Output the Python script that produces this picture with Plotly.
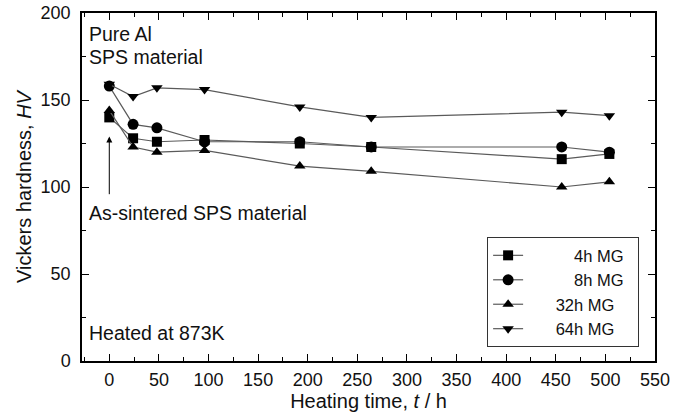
import plotly.graph_objects as go

time_h = [0, 24, 48, 96, 192, 264, 456, 504]
hv_4h = [140, 128, 126, 127, 125, 123, 116, 119]
hv_8h = [158, 136, 134, 126, 126, 123, 123, 120]
hv_32h = [144, 123, 120, 121, 112, 109, 100, 103]
hv_64h = [159, 152, 157, 156, 146, 140, 143, 141]

S = "\u2007"
series = [
    (S * 5 + "4h MG" + S, hv_4h, "square"),
    (S * 5 + "8h MG" + S, hv_8h, "circle"),
    (S * 3 + "32h MG" + S, hv_32h, "triangle-up"),
    (S * 3 + "64h MG" + S, hv_64h, "triangle-down"),
]

fig = go.Figure()
for name, vals, sym in series:
    fig.add_trace(go.Scatter(
        x=time_h, y=vals, name=name, mode="lines+markers",
        line=dict(color="#5a5a5a", width=1.2),
        marker=dict(symbol=sym, color="black", size=10 if sym != "circle" else 11),
    ))

FAM = "Liberation Sans, Arial, sans-serif"
font = dict(family=FAM, size=19.5, color="#111")

fig.update_layout(
    width=680, height=418,
    margin=dict(l=82, r=25, t=13, b=57),
    paper_bgcolor="white", plot_bgcolor="white",
    font=dict(family=FAM, size=18, color="#111"),
    showlegend=True,
    legend=dict(
        x=0.707, y=0.356, xanchor="left", yanchor="top",
        bordercolor="#333", borderwidth=1, bgcolor="white",
        font=dict(family=FAM, size=16.5, color="#111"),
        tracegroupgap=0,
    ),
    xaxis=dict(
        range=[-27.5, 550], tickmode="array",
        tickvals=list(range(0, 551, 50)),
        ticks="inside", ticklen=7, tickwidth=1.2, tickcolor="black",
        minor=dict(tickvals=list(range(-25, 551, 25)), ticks="inside", ticklen=4, tickcolor="black", tickwidth=1),
        showline=True, linecolor="black", linewidth=1.5, mirror="ticks",
        showgrid=False, zeroline=False, automargin=False,
        tickfont=dict(family=FAM, size=18),
        ticklabelstandoff=2, ticklabeloverflow="allow",
        title=dict(text="Heating time, <i>t</i> / h", standoff=4, font=dict(family=FAM, size=20)),
    ),
    yaxis=dict(
        range=[0, 200], tickmode="array",
        tickvals=[0, 50, 100, 150, 200],
        ticks="inside", ticklen=7, tickwidth=1.2, tickcolor="black",
        minor=dict(tickvals=[25, 75, 125, 175], ticks="inside", ticklen=4, tickcolor="black", tickwidth=1),
        showline=True, linecolor="black", linewidth=1.5, mirror="ticks",
        showgrid=False, zeroline=False, automargin=False,
        tickfont=dict(family=FAM, size=18),
        ticklabelstandoff=6, ticklabeloverflow="allow",
        title=dict(text="Vickers hardness, <i>HV</i>", standoff=4, font=dict(family=FAM, size=20)),
    ),
)

fig.add_annotation(x=-22, y=188, xref="x", yref="y", text="Pure Al", showarrow=False,
                   xanchor="left", yanchor="middle", font=font)
fig.add_annotation(x=-22, y=175, xref="x", yref="y", text="SPS material", showarrow=False,
                   xanchor="left", yanchor="middle", font=font)
fig.add_annotation(x=-22, y=85, xref="x", yref="y", text="As-sintered SPS material", showarrow=False,
                   xanchor="left", yanchor="middle", font=font)
fig.add_annotation(x=-22, y=16, xref="x", yref="y", text="Heated at 873K", showarrow=False,
                   xanchor="left", yanchor="middle", font=font)
fig.add_annotation(x=0, y=129, ax=0, ay=95, xref="x", yref="y", axref="x", ayref="y",
                   text="", showarrow=True, arrowhead=2, arrowsize=1.2, arrowwidth=1, arrowcolor="black")

fig.write_html("out.html", config={"displayModeBar": False},
               post_script="document.body.style.margin='0px';")
